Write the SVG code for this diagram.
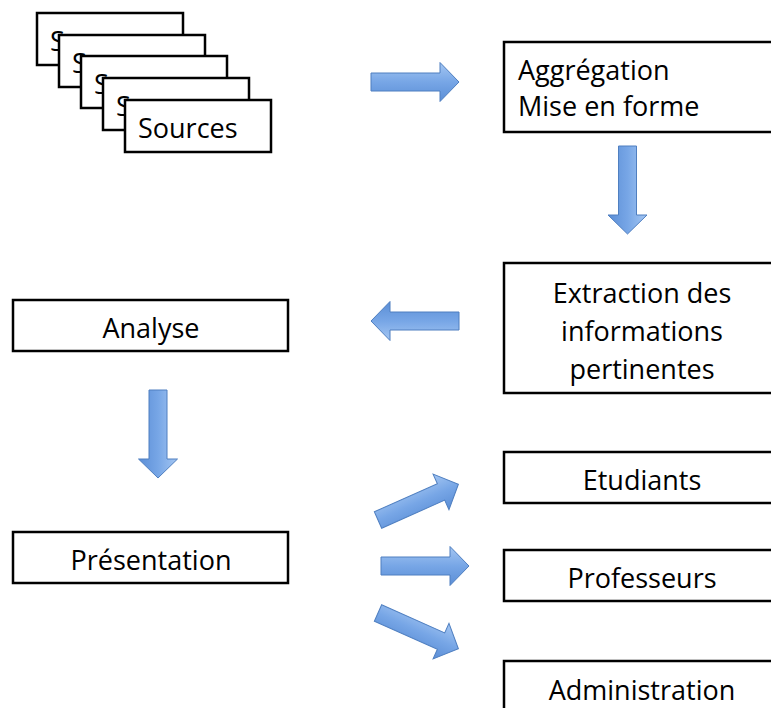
<svg xmlns="http://www.w3.org/2000/svg" xmlns:xlink="http://www.w3.org/1999/xlink" width="771" height="708" viewBox="0 0 771 708">
<style>
  .box { fill: #ffffff; stroke: #000000; stroke-width: 2.5; }
  .lbl { font-family: "Open Sans", "Noto Sans", "Liberation Sans", sans-serif; font-size: 27px; fill: #000000; }
  .mid { text-anchor: middle; }
  .arr { fill: url(#blue); stroke: #4f7fc0; stroke-width: 1; stroke-linejoin: miter; }
</style>
<defs>
  <linearGradient id="blue" x1="0" y1="0" x2="0" y2="1">
    <stop offset="0" stop-color="#a4c6f2"/>
    <stop offset="0.5" stop-color="#77a6e6"/>
    <stop offset="1" stop-color="#5b8ed6"/>
  </linearGradient>
  <path id="arrow" d="M0,-9 H69 V-19.5 L88,0 L69,19.5 V9 H0 Z"/>
</defs>
<rect width="771" height="708" fill="#ffffff"/>

<g id="sources">
  <rect class="box" x="37" y="13" width="146" height="52"/>
  <text class="lbl" x="50" y="51">Sources</text>
  <rect class="box" x="59" y="35" width="146" height="52"/>
  <text class="lbl" x="72" y="73">Sources</text>
  <rect class="box" x="81" y="56" width="146" height="52"/>
  <text class="lbl" x="94" y="94">Sources</text>
  <rect class="box" x="103" y="78" width="146" height="52"/>
  <text class="lbl" x="116" y="116">Sources</text>
  <rect class="box" x="125" y="100" width="146" height="52"/>
  <text class="lbl" x="138" y="138">Sources</text>
</g>

<g id="aggregation">
  <rect class="box" x="504" y="42" width="300" height="90"/>
  <text class="lbl" x="518" y="80">Aggrégation</text>
  <text class="lbl" x="518" y="116">Mise en forme</text>
</g>

<g id="extraction">
  <rect class="box" x="504" y="263" width="300" height="130"/>
  <text class="lbl mid" x="642" y="303">Extraction des</text>
  <text class="lbl mid" x="642" y="341">informations</text>
  <text class="lbl mid" x="642" y="379">pertinentes</text>
</g>

<g id="analyse">
  <rect class="box" x="13" y="300" width="275" height="51"/>
  <text class="lbl mid" x="151" y="338">Analyse</text>
</g>

<g id="presentation">
  <rect class="box" x="13" y="532" width="275" height="51"/>
  <text class="lbl mid" x="151" y="570">Présentation</text>
</g>

<g id="etudiants">
  <rect class="box" x="504" y="452" width="300" height="51"/>
  <text class="lbl mid" x="642" y="490">Etudiants</text>
</g>

<g id="professeurs">
  <rect class="box" x="504" y="550" width="300" height="51"/>
  <text class="lbl mid" x="642" y="588">Professeurs</text>
</g>

<g id="administration">
  <rect class="box" x="504" y="661" width="300" height="60"/>
  <text class="lbl mid" x="642" y="700">Administration</text>
</g>

<g id="connectors">
  <use xlink:href="#arrow" class="arr" transform="translate(371,82)"/>
  <use xlink:href="#arrow" class="arr" transform="translate(627.5,146) rotate(90)"/>
  <use xlink:href="#arrow" class="arr" transform="translate(459,321) rotate(180)"/>
  <use xlink:href="#arrow" class="arr" transform="translate(158,390) rotate(90)"/>
  <use xlink:href="#arrow" class="arr" transform="translate(378,520) rotate(-24)"/>
  <use xlink:href="#arrow" class="arr" transform="translate(381,566)"/>
  <use xlink:href="#arrow" class="arr" transform="translate(378,613) rotate(24)"/>
</g>
</svg>
